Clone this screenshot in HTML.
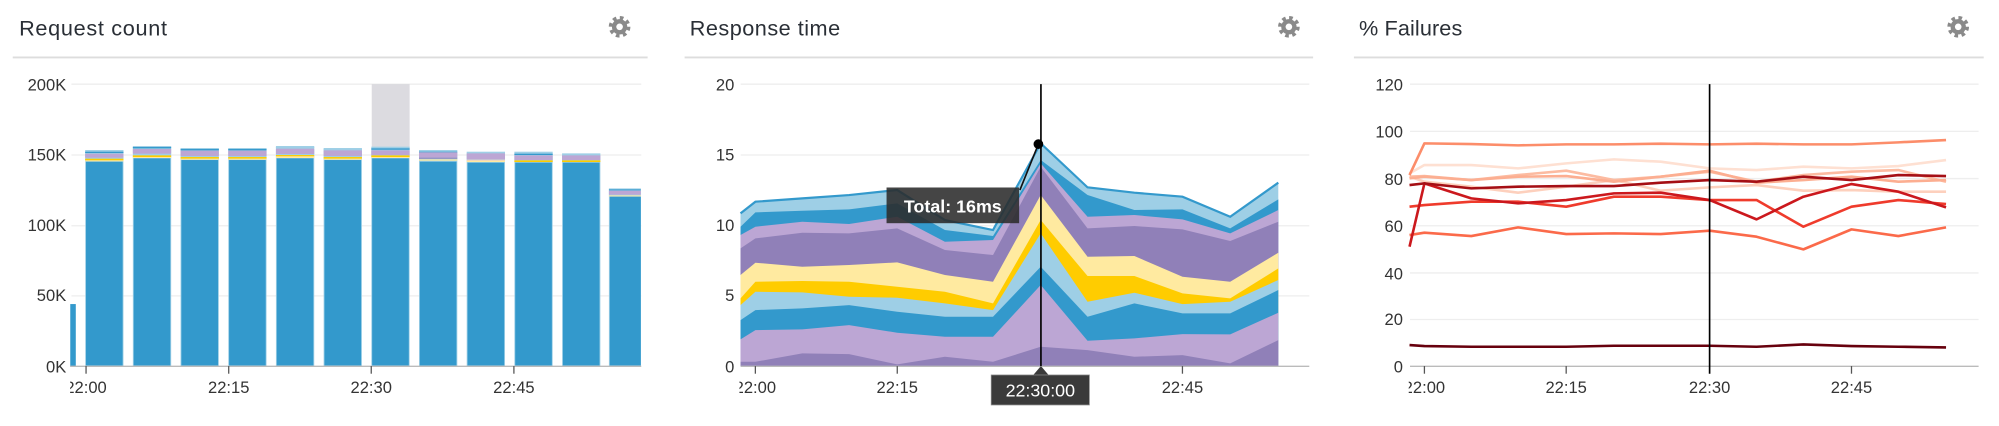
<!DOCTYPE html>
<html><head><meta charset="utf-8"><style>
html,body{margin:0;padding:0;background:#fff;width:1999px;height:426px;overflow:hidden}
svg{display:block}
text{font-family:"Liberation Sans","DejaVu Sans",sans-serif}
</style></head><body>
<svg width="1999" height="426" viewBox="0 0 1568 334" preserveAspectRatio="none" xmlns="http://www.w3.org/2000/svg">
<defs>
<clipPath id="c1"><rect x="55" y="0" width="460" height="334"/></clipPath>
<clipPath id="c2"><rect x="580" y="0" width="460" height="334"/></clipPath>
<clipPath id="c3"><rect x="1105" y="0" width="460" height="334"/></clipPath>
<g id="gear"><circle r="6.5" fill="none" stroke="#8a8a8a" stroke-width="4" stroke-dasharray="2.6 2.5"/><circle r="6" fill="#8a8a8a"/><circle r="2.6" fill="#fff"/></g>
</defs>

<!-- Titles -->
<g font-size="17" fill="#2a2f36">
<text x="15" y="28" textLength="116">Request count</text>
<text x="541" y="28" textLength="118">Response time</text>
<text x="1066" y="28" textLength="81">% Failures</text>
</g>
<use href="#gear" x="486" y="21"/>
<use href="#gear" x="1011" y="21"/>
<use href="#gear" x="1536" y="21"/>
<g stroke="#ddd" stroke-width="1.5">
<line x1="10" y1="45" x2="508" y2="45"/>
<line x1="537" y1="45" x2="1030" y2="45"/>
<line x1="1062" y1="45" x2="1556" y2="45"/>
</g>

<!-- ===== Panel 1 ===== -->
<g stroke="#eee" stroke-width="1">
<line x1="56" y1="66" x2="503" y2="66"/><line x1="56" y1="121.5" x2="503" y2="121.5"/>
<line x1="56" y1="177" x2="503" y2="177"/><line x1="56" y1="232" x2="503" y2="232"/>
</g>
<g font-size="13" fill="#333" text-anchor="end">
<text x="52" y="71">200K</text><text x="52" y="126">150K</text><text x="52" y="181">100K</text><text x="52" y="236">50K</text><text x="52" y="292">0K</text>
</g>
<g transform="scale(0.334,0.2614)">
<rect x="873" y="252" width="89" height="200" fill="#dcdbe0"/>
<rect x="165" y="912" width="13" height="186" fill="#3399cc"/>
</g>
<g transform="scale(0.334,0.2614)" id="bars"></g>
<g transform="scale(0.334,0.2614)">
<g>
<!-- bar k: x, t, b -->
<rect x="200" y="450" width="90" height="648" fill="#9ecfe6"/><rect x="200" y="455" width="90" height="4" fill="#3399cc"/><rect x="200" y="461" width="90" height="12" fill="#bca6d4"/><rect x="200" y="476" width="90" height="5" fill="#ffcc00"/><rect x="200" y="481" width="90" height="3" fill="#ffeaa0"/><rect x="202" y="485" width="86" height="611" fill="#3399cc"/>
<rect x="312" y="438" width="90" height="660" fill="#9ecfe6"/><rect x="312" y="441" width="90" height="4" fill="#3399cc"/><rect x="312" y="447" width="90" height="14" fill="#bca6d4"/><rect x="312" y="466" width="90" height="5" fill="#ffcc00"/><rect x="312" y="471" width="90" height="3" fill="#ffeaa0"/><rect x="314" y="475" width="86" height="621" fill="#3399cc"/>
<rect x="424" y="444" width="90" height="654" fill="#9ecfe6"/><rect x="424" y="447" width="90" height="4" fill="#3399cc"/><rect x="424" y="452" width="90" height="16" fill="#bca6d4"/><rect x="424" y="471" width="90" height="5" fill="#ffcc00"/><rect x="424" y="476" width="90" height="3" fill="#ffeaa0"/><rect x="426" y="480" width="86" height="616" fill="#3399cc"/>
<rect x="536" y="444" width="90" height="654" fill="#9ecfe6"/><rect x="536" y="447" width="90" height="4" fill="#3399cc"/><rect x="536" y="452" width="90" height="16" fill="#bca6d4"/><rect x="536" y="471" width="90" height="5" fill="#ffcc00"/><rect x="536" y="476" width="90" height="3" fill="#ffeaa0"/><rect x="538" y="480" width="86" height="616" fill="#3399cc"/>
<rect x="648" y="438" width="90" height="660" fill="#9ecfe6"/><rect x="648" y="441" width="90" height="3" fill="#9ecfe6"/><rect x="648" y="446" width="90" height="16" fill="#bca6d4"/><rect x="648" y="465" width="90" height="4" fill="#ffcc00"/><rect x="648" y="469" width="90" height="5" fill="#ffeaa0"/><rect x="650" y="475" width="86" height="621" fill="#3399cc"/>
<rect x="760" y="444" width="90" height="654" fill="#9ecfe6"/><rect x="760" y="447" width="90" height="3" fill="#9ecfe6"/><rect x="760" y="451" width="90" height="17" fill="#bca6d4"/><rect x="760" y="471" width="90" height="5" fill="#ffcc00"/><rect x="760" y="476" width="90" height="3" fill="#ffeaa0"/><rect x="762" y="480" width="86" height="616" fill="#3399cc"/>
<rect x="872" y="440" width="90" height="658" fill="#9ecfe6"/><rect x="872" y="445" width="90" height="4" fill="#3399cc"/><rect x="872" y="451" width="90" height="14" fill="#bca6d4"/><rect x="872" y="466" width="90" height="5" fill="#ffcc00"/><rect x="872" y="471" width="90" height="3" fill="#ffeaa0"/><rect x="874" y="475" width="86" height="621" fill="#3399cc"/>
<rect x="984" y="450" width="90" height="648" fill="#9ecfe6"/><rect x="984" y="455" width="90" height="2" fill="#3399cc"/><rect x="984" y="457" width="90" height="16" fill="#bca6d4"/><rect x="984" y="473" width="90" height="3" fill="#9080b8"/><rect x="984" y="478" width="90" height="4" fill="#ffeaa0"/><rect x="986" y="485" width="86" height="611" fill="#3399cc"/>
<rect x="1096" y="455" width="90" height="643" fill="#9ecfe6"/><rect x="1096" y="460" width="90" height="18" fill="#bca6d4"/><rect x="1096" y="479" width="90" height="3" fill="#fdd0bd"/><rect x="1096" y="482" width="90" height="4" fill="#ffeaa0"/><rect x="1098" y="488" width="86" height="608" fill="#3399cc"/>
<rect x="1208" y="455" width="90" height="643" fill="#9ecfe6"/><rect x="1208" y="461" width="90" height="4" fill="#3399cc"/><rect x="1208" y="466" width="90" height="14" fill="#bca6d4"/><rect x="1208" y="481" width="90" height="5" fill="#ffcc00"/><rect x="1210" y="488" width="86" height="608" fill="#3399cc"/>
<rect x="1320" y="460" width="90" height="638" fill="#9ecfe6"/><rect x="1320" y="466" width="90" height="14" fill="#bca6d4"/><rect x="1320" y="481" width="90" height="5" fill="#ffcc00"/><rect x="1322" y="488" width="86" height="608" fill="#3399cc"/>
<rect x="1430" y="565" width="75" height="533" fill="#9ecfe6"/><rect x="1430" y="568" width="75" height="3" fill="#3399cc"/><rect x="1430" y="572" width="75" height="12" fill="#bca6d4"/><rect x="1430" y="586" width="75" height="3" fill="#ffeaa0"/><rect x="1432" y="590" width="73" height="506" fill="#3399cc"/>
</g>
</g>
<line x1="55" y1="287.2" x2="503" y2="287.2" stroke="#bbb" stroke-width="1"/>
<g stroke="#555" stroke-width="1"><line x1="67.5" y1="287" x2="67.5" y2="293"/><line x1="179.4" y1="287" x2="179.4" y2="293"/><line x1="291.2" y1="287" x2="291.2" y2="293"/><line x1="403.1" y1="287" x2="403.1" y2="293"/></g>
<g font-size="13" fill="#333" text-anchor="middle" clip-path="url(#c1)">
<text x="67.5" y="308">22:00</text><text x="179.4" y="308">22:15</text><text x="291.2" y="308">22:30</text><text x="403.1" y="308">22:45</text>
</g>

<!-- ===== Panel 2 ===== -->
<g stroke="#eee" stroke-width="1">
<line x1="581" y1="66" x2="1027" y2="66"/><line x1="581" y1="121.5" x2="1027" y2="121.5"/>
<line x1="581" y1="177" x2="1027" y2="177"/><line x1="581" y1="232" x2="1027" y2="232"/>
</g>
<g font-size="13" fill="#333" text-anchor="end">
<text x="576" y="71">20</text><text x="576" y="126">15</text><text x="576" y="181">10</text><text x="576" y="236">5</text><text x="576" y="292">0</text>
</g>
<g transform="translate(522.4,0) scale(0.334,0.2614)">
<polygon fill="#9ecfe6" points="175,640 210,605 320,595 430,585 543,570 655,660 768,690 880,430 990,562 1100,578 1213,590 1325,650 1438,548 1438,1098 175,1098"/>
<polygon fill="#3399cc" points="175,680 210,637 320,632 430,628 543,610 655,690 768,708 880,480 990,585 1100,630 1213,628 1325,685 1438,598 1438,1098 175,1098"/>
<polygon fill="#bca6d4" points="175,705 210,680 320,665 430,672 543,650 655,725 768,720 880,490 990,650 1100,645 1213,658 1325,700 1438,630 1438,1098 175,1098"/>
<polygon fill="#9080b8" points="175,745 210,715 320,698 430,700 543,685 655,750 768,765 880,500 990,685 1100,678 1213,688 1325,723 1438,665 1438,1098 175,1098"/>
<polygon fill="#ffeaa0" points="175,825 210,788 320,800 430,795 543,787 655,825 768,845 880,585 990,770 1100,768 1213,830 1325,845 1438,758 1438,1098 175,1098"/>
<polygon fill="#ffcc00" points="175,895 210,845 320,843 430,845 543,860 655,875 768,910 880,660 990,828 1100,828 1213,880 1325,895 1438,805 1438,1098 175,1098"/>
<polygon fill="#9ecfe6" points="175,915 210,875 320,877 430,890 543,893 655,910 768,930 880,700 990,905 1100,878 1213,912 1325,905 1438,840 1438,1098 175,1098"/>
<polygon fill="#3399cc" points="175,960 210,930 320,925 430,915 543,935 655,950 768,950 880,800 990,950 1100,910 1213,940 1325,940 1438,870 1438,1098 175,1098"/>
<polygon fill="#bca6d4" points="175,1018 210,990 320,988 430,975 543,998 655,1010 768,1010 880,855 990,1022 1100,1015 1213,1002 1325,1003 1438,938 1438,1098 175,1098"/>
<polygon fill="#9080b8" points="175,1085 210,1085 320,1060 430,1062 543,1093 655,1070 768,1085 880,1040 990,1050 1100,1070 1213,1065 1325,1090 1438,1020 1438,1098 175,1098"/>
<polyline fill="none" stroke="#3399cc" stroke-width="2.2" vector-effect="non-scaling-stroke" points="175,640 210,605 320,595 430,585 543,570 655,660 768,690 880,430 990,562 1100,578 1213,590 1325,650 1438,548"/>
</g>
<line x1="581" y1="287.2" x2="1027" y2="287.2" stroke="#bbb" stroke-width="1"/>
<g stroke="#555" stroke-width="1"><line x1="592.5" y1="287" x2="592.5" y2="293"/><line x1="703.8" y1="287" x2="703.8" y2="293"/><line x1="927.5" y1="287" x2="927.5" y2="293"/></g>
<g font-size="13" fill="#333" text-anchor="middle" clip-path="url(#c2)">
<text x="592.5" y="308">22:00</text><text x="703.8" y="308">22:15</text><text x="927.5" y="308">22:45</text>
</g>
<line x1="816.5" y1="66" x2="816.5" y2="287" stroke="#000" stroke-width="1.3"/>
<line x1="800" y1="149" x2="814.5" y2="113" stroke="#111" stroke-width="1.3"/>
<circle cx="814.5" cy="113" r="3.8" fill="#000"/>
<rect x="695.4" y="147" width="104" height="28" fill="#2b2b2b" opacity="0.88"/>
<text x="747.4" y="166.5" font-size="14" font-weight="bold" fill="#fff" text-anchor="middle">Total: 16ms</text>
<polygon points="816.5,287 810.5,294 822.5,294" fill="#3a3a3a"/>
<rect x="777.5" y="294" width="77" height="23.5" fill="#3a3a3a" stroke="#888" stroke-width="0.6"/>
<text x="816" y="311" font-size="14" fill="#fff" text-anchor="middle">22:30:00</text>

<!-- ===== Panel 3 ===== -->
<g stroke="#eee" stroke-width="1">
<line x1="1106" y1="66" x2="1552" y2="66"/><line x1="1106" y1="103" x2="1552" y2="103"/>
<line x1="1106" y1="140" x2="1552" y2="140"/><line x1="1106" y1="177" x2="1552" y2="177"/>
<line x1="1106" y1="214" x2="1552" y2="214"/><line x1="1106" y1="250.5" x2="1552" y2="250.5"/>
</g>
<g font-size="13" fill="#333" text-anchor="end">
<text x="1100.5" y="71">120</text><text x="1100.5" y="108">100</text><text x="1100.5" y="145">80</text><text x="1100.5" y="182">60</text><text x="1100.5" y="219">40</text><text x="1100.5" y="255">20</text><text x="1100.5" y="292">0</text>
</g>
<g transform="translate(1045.5,0) scale(0.334,0.2614)" fill="none" stroke-width="2.6" stroke-linejoin="round">
<polyline vector-effect="non-scaling-stroke" stroke="#fee0d2" points="180,520 215,495 325,495 435,505 548,490 660,478 770,485 885,505 995,510 1105,500 1218,505 1328,498 1440,480"/>
<polyline vector-effect="non-scaling-stroke" stroke="#fdd0bd" points="180,530 215,545 325,560 435,578 548,560 660,540 770,572 885,562 995,555 1105,572 1218,570 1328,575 1440,575"/>
<polyline vector-effect="non-scaling-stroke" stroke="#fcbba1" points="180,530 215,528 325,540 435,525 548,512 660,540 770,530 885,515 995,545 1105,525 1218,515 1328,510 1440,545"/>
<polyline vector-effect="non-scaling-stroke" stroke="#fcae91" points="180,535 215,530 325,540 435,530 548,528 660,545 770,530 885,512 995,548 1105,540 1218,530 1328,545 1440,540"/>
<polyline vector-effect="non-scaling-stroke" stroke="#fc8d6a" points="180,525 215,430 325,432 435,436 548,433 660,433 770,431 885,433 995,431 1105,433 1218,433 1328,427 1440,420"/>
<polyline vector-effect="non-scaling-stroke" stroke="#fb6a4a" points="180,705 215,698 325,708 435,682 548,702 660,700 770,702 885,692 995,710 1105,748 1218,688 1328,708 1440,682"/>
<polyline vector-effect="non-scaling-stroke" stroke="#ef3b2c" points="180,620 215,615 325,605 435,605 548,620 660,590 770,590 885,600 995,600 1105,680 1218,620 1328,600 1440,612"/>
<polyline vector-effect="non-scaling-stroke" stroke="#cb181d" points="180,740 215,550 325,595 435,610 548,600 660,580 770,578 885,600 995,658 1105,590 1218,552 1328,575 1440,622"/>
<polyline vector-effect="non-scaling-stroke" stroke="#a50f15" points="180,555 215,550 325,565 435,560 548,558 660,558 770,548 885,540 995,545 1105,530 1218,540 1328,525 1440,528"/>
<polyline vector-effect="non-scaling-stroke" stroke="#67000d" points="180,1035 215,1038 325,1040 435,1040 548,1040 660,1037 770,1037 885,1037 995,1040 1105,1033 1218,1038 1328,1040 1440,1042"/>
</g>
<line x1="1106" y1="287.2" x2="1552" y2="287.2" stroke="#bbb" stroke-width="1"/>
<g stroke="#555" stroke-width="1"><line x1="1117.3" y1="287" x2="1117.3" y2="293"/><line x1="1228.5" y1="287" x2="1228.5" y2="293"/><line x1="1452.3" y1="287" x2="1452.3" y2="293"/></g>
<line x1="1341" y1="66" x2="1341" y2="293" stroke="#000" stroke-width="1.3"/>
<g font-size="13" fill="#333" text-anchor="middle" clip-path="url(#c3)">
<text x="1117.3" y="308">22:00</text><text x="1228.5" y="308">22:15</text><text x="1341" y="308">22:30</text><text x="1452.3" y="308">22:45</text>
</g>
</svg>
</body></html>
